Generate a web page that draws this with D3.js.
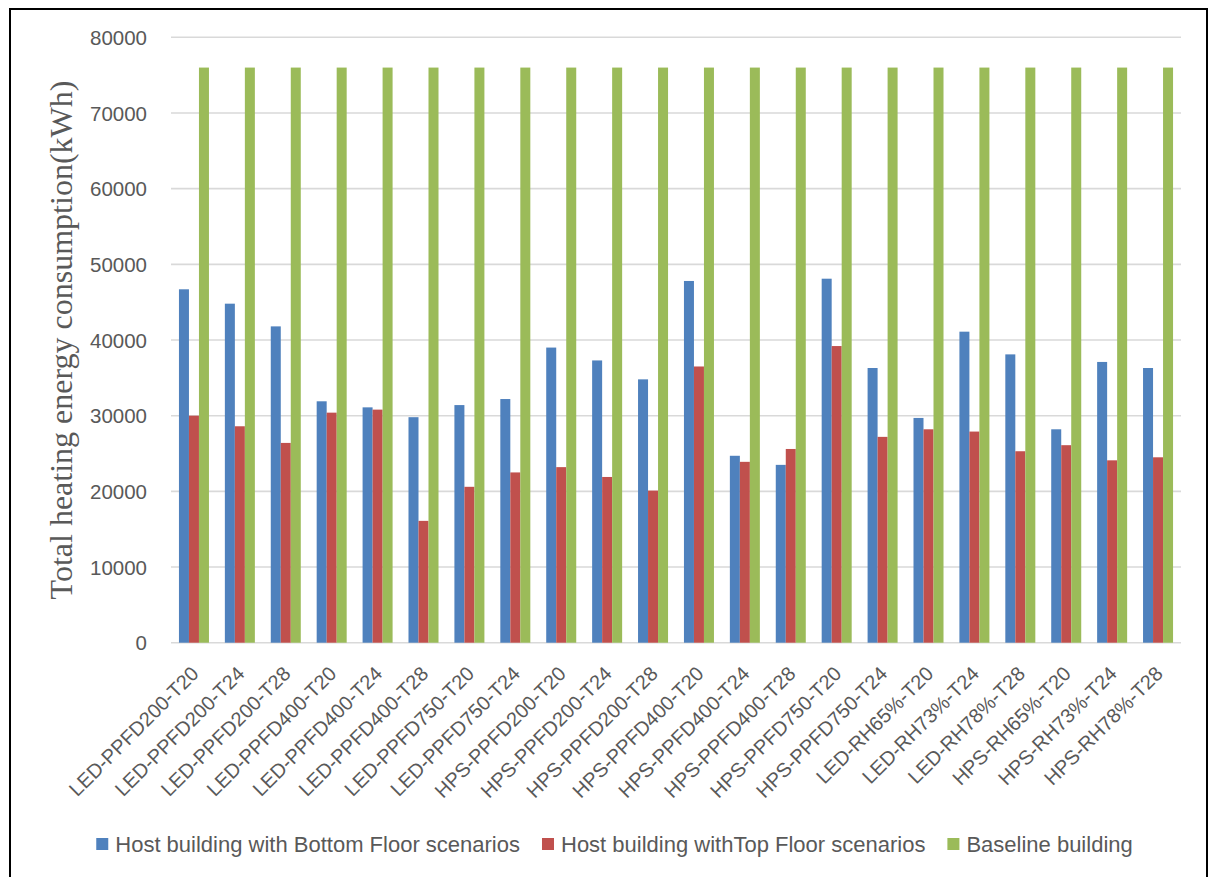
<!DOCTYPE html>
<html>
<head>
<meta charset="utf-8">
<script src="https://cdn.jsdelivr.net/npm/d3@7"></script>
<style>
  html, body { margin: 0; padding: 0; background: #fff; }
  svg { display: block; }
</style>
</head>
<body>
<svg id="chart" width="1211" height="877"></svg>
<script>
// Scenario names along the x axis
const categories = [
  "LED-PPFD200-T20", "LED-PPFD200-T24", "LED-PPFD200-T28",
  "LED-PPFD400-T20", "LED-PPFD400-T24", "LED-PPFD400-T28",
  "LED-PPFD750-T20", "LED-PPFD750-T24",
  "HPS-PPFD200-T20", "HPS-PPFD200-T24", "HPS-PPFD200-T28",
  "HPS-PPFD400-T20", "HPS-PPFD400-T24", "HPS-PPFD400-T28",
  "HPS-PPFD750-T20", "HPS-PPFD750-T24",
  "LED-RH65%-T20", "LED-RH73%-T24", "LED-RH78%-T28",
  "HPS-RH65%-T20", "HPS-RH73%-T24", "HPS-RH78%-T28"
];

// Total heating energy consumption (kWh)
const bottomFloor = [
  46700, 44800, 41800, 31900, 31100, 29800, 31400, 32200,
  39000, 37300, 34800, 47800, 24700, 23500, 48100, 36300,
  29700, 41100, 38100, 28200, 37100, 36300
];
const topFloor = [
  30000, 28600, 26400, 30400, 30800, 16100, 20600, 22500,
  23200, 21900, 20100, 36500, 23900, 25600, 39200, 27200,
  28200, 27900, 25300, 26100, 24100, 24500
];
const baseline = [
  76000, 76000, 76000, 76000, 76000, 76000, 76000, 76000,
  76000, 76000, 76000, 76000, 76000, 76000, 76000, 76000,
  76000, 76000, 76000, 76000, 76000, 76000
];

const seriesNames = [
  "Host building with Bottom Floor scenarios",
  "Host building withTop Floor scenarios",
  "Baseline building"
];
const seriesColors = ["#4F81BD", "#C0504D", "#9BBB59"];
const yTicks = [0, 10000, 20000, 30000, 40000, 50000, 60000, 70000, 80000];
const yTitle = "Total heating energy consumption(kWh)";

const seriesValues = [bottomFloor, topFloor, baseline];

const svg = d3.select("#chart");
const plot = { left: 171, right: 1181, top: 37.3, bottom: 642.7 };
const textColor = "#595959";

// outer frame
svg.append("rect")
  .attr("x", 10).attr("y", 9)
  .attr("width", 1197).attr("height", 880)
  .attr("fill", "none").attr("stroke", "#000").attr("stroke-width", 2);

const x = d3.scaleBand().domain(categories).range([plot.left, plot.right]).padding(0);
const xInner = d3.scaleBand().domain(d3.range(seriesNames.length))
  .range([0, x.bandwidth()]).paddingInner(0).paddingOuter(0.795);
const y = d3.scaleLinear().domain([0, 80000]).range([plot.bottom, plot.top]);

// horizontal gridlines
svg.append("g")
  .selectAll("line")
  .data(yTicks)
  .join("line")
  .attr("x1", plot.left).attr("x2", plot.right)
  .attr("y1", d => y(d)).attr("y2", d => y(d))
  .attr("stroke", "#d9d9d9").attr("stroke-width", 1.6);

// y axis labels
const yAxis = d3.axisLeft(y).tickValues(yTicks).tickSize(0).tickPadding(0).tickFormat(d3.format("d"));
const yg = svg.append("g").attr("transform", `translate(147,0)`).call(yAxis);
yg.select(".domain").remove();
yg.selectAll("text")
  .attr("fill", textColor)
  .attr("font-family", "'Liberation Sans', Arial, sans-serif")
  .attr("font-size", 20.5)
  .attr("dy", "0.35em");

// bars
const groups = svg.append("g")
  .selectAll("g")
  .data(categories)
  .join("g")
  .attr("transform", d => `translate(${x(d)},0)`);

groups.selectAll("rect")
  .data((d, i) => seriesValues.map((vals, s) => ({ s, v: vals[i] })))
  .join("rect")
  .attr("x", d => xInner(d.s))
  .attr("width", xInner.bandwidth())
  .attr("y", d => y(d.v))
  .attr("height", d => y(0) - y(d.v))
  .attr("fill", d => seriesColors[d.s]);

// x axis category labels, rotated
svg.append("g")
  .selectAll("text")
  .data(categories)
  .join("text")
  .attr("transform", d => `translate(${x(d) + x.bandwidth() / 2 + 6},675) rotate(-45)`)
  .attr("text-anchor", "end")
  .attr("fill", textColor)
  .attr("font-family", "'Liberation Sans', Arial, sans-serif")
  .attr("font-size", 20)
  .text(d => d);

// y axis title
svg.append("text")
  .attr("transform", `translate(72,${(plot.top + plot.bottom) / 2}) rotate(-90)`)
  .attr("text-anchor", "middle")
  .attr("fill", textColor)
  .attr("font-family", "'Liberation Serif', 'Times New Roman', serif")
  .attr("font-size", 32)
  .text(yTitle);

// legend
const legend = svg.append("g");
const items = legend.selectAll("g")
  .data(seriesNames)
  .join("g");
items.append("rect")
  .attr("width", 12).attr("height", 12)
  .attr("y", 838)
  .attr("fill", (d, i) => seriesColors[i]);
items.append("text")
  .attr("x", 19)
  .attr("y", 844)
  .attr("dy", "0.35em")
  .attr("fill", textColor)
  .attr("font-family", "'Liberation Sans', Arial, sans-serif")
  .attr("font-size", 22)
  .text(d => d);

let cursor = 0;
const offsets = [];
items.each(function () {
  offsets.push(cursor);
  const w = d3.select(this).select("text").node().getComputedTextLength();
  cursor += 19 + w + 22;
});
const totalW = cursor - 22;
const startX = 614.5 - totalW / 2;
items.attr("transform", (d, i) => `translate(${startX + offsets[i]},0)`);
</script>
</body>
</html>
